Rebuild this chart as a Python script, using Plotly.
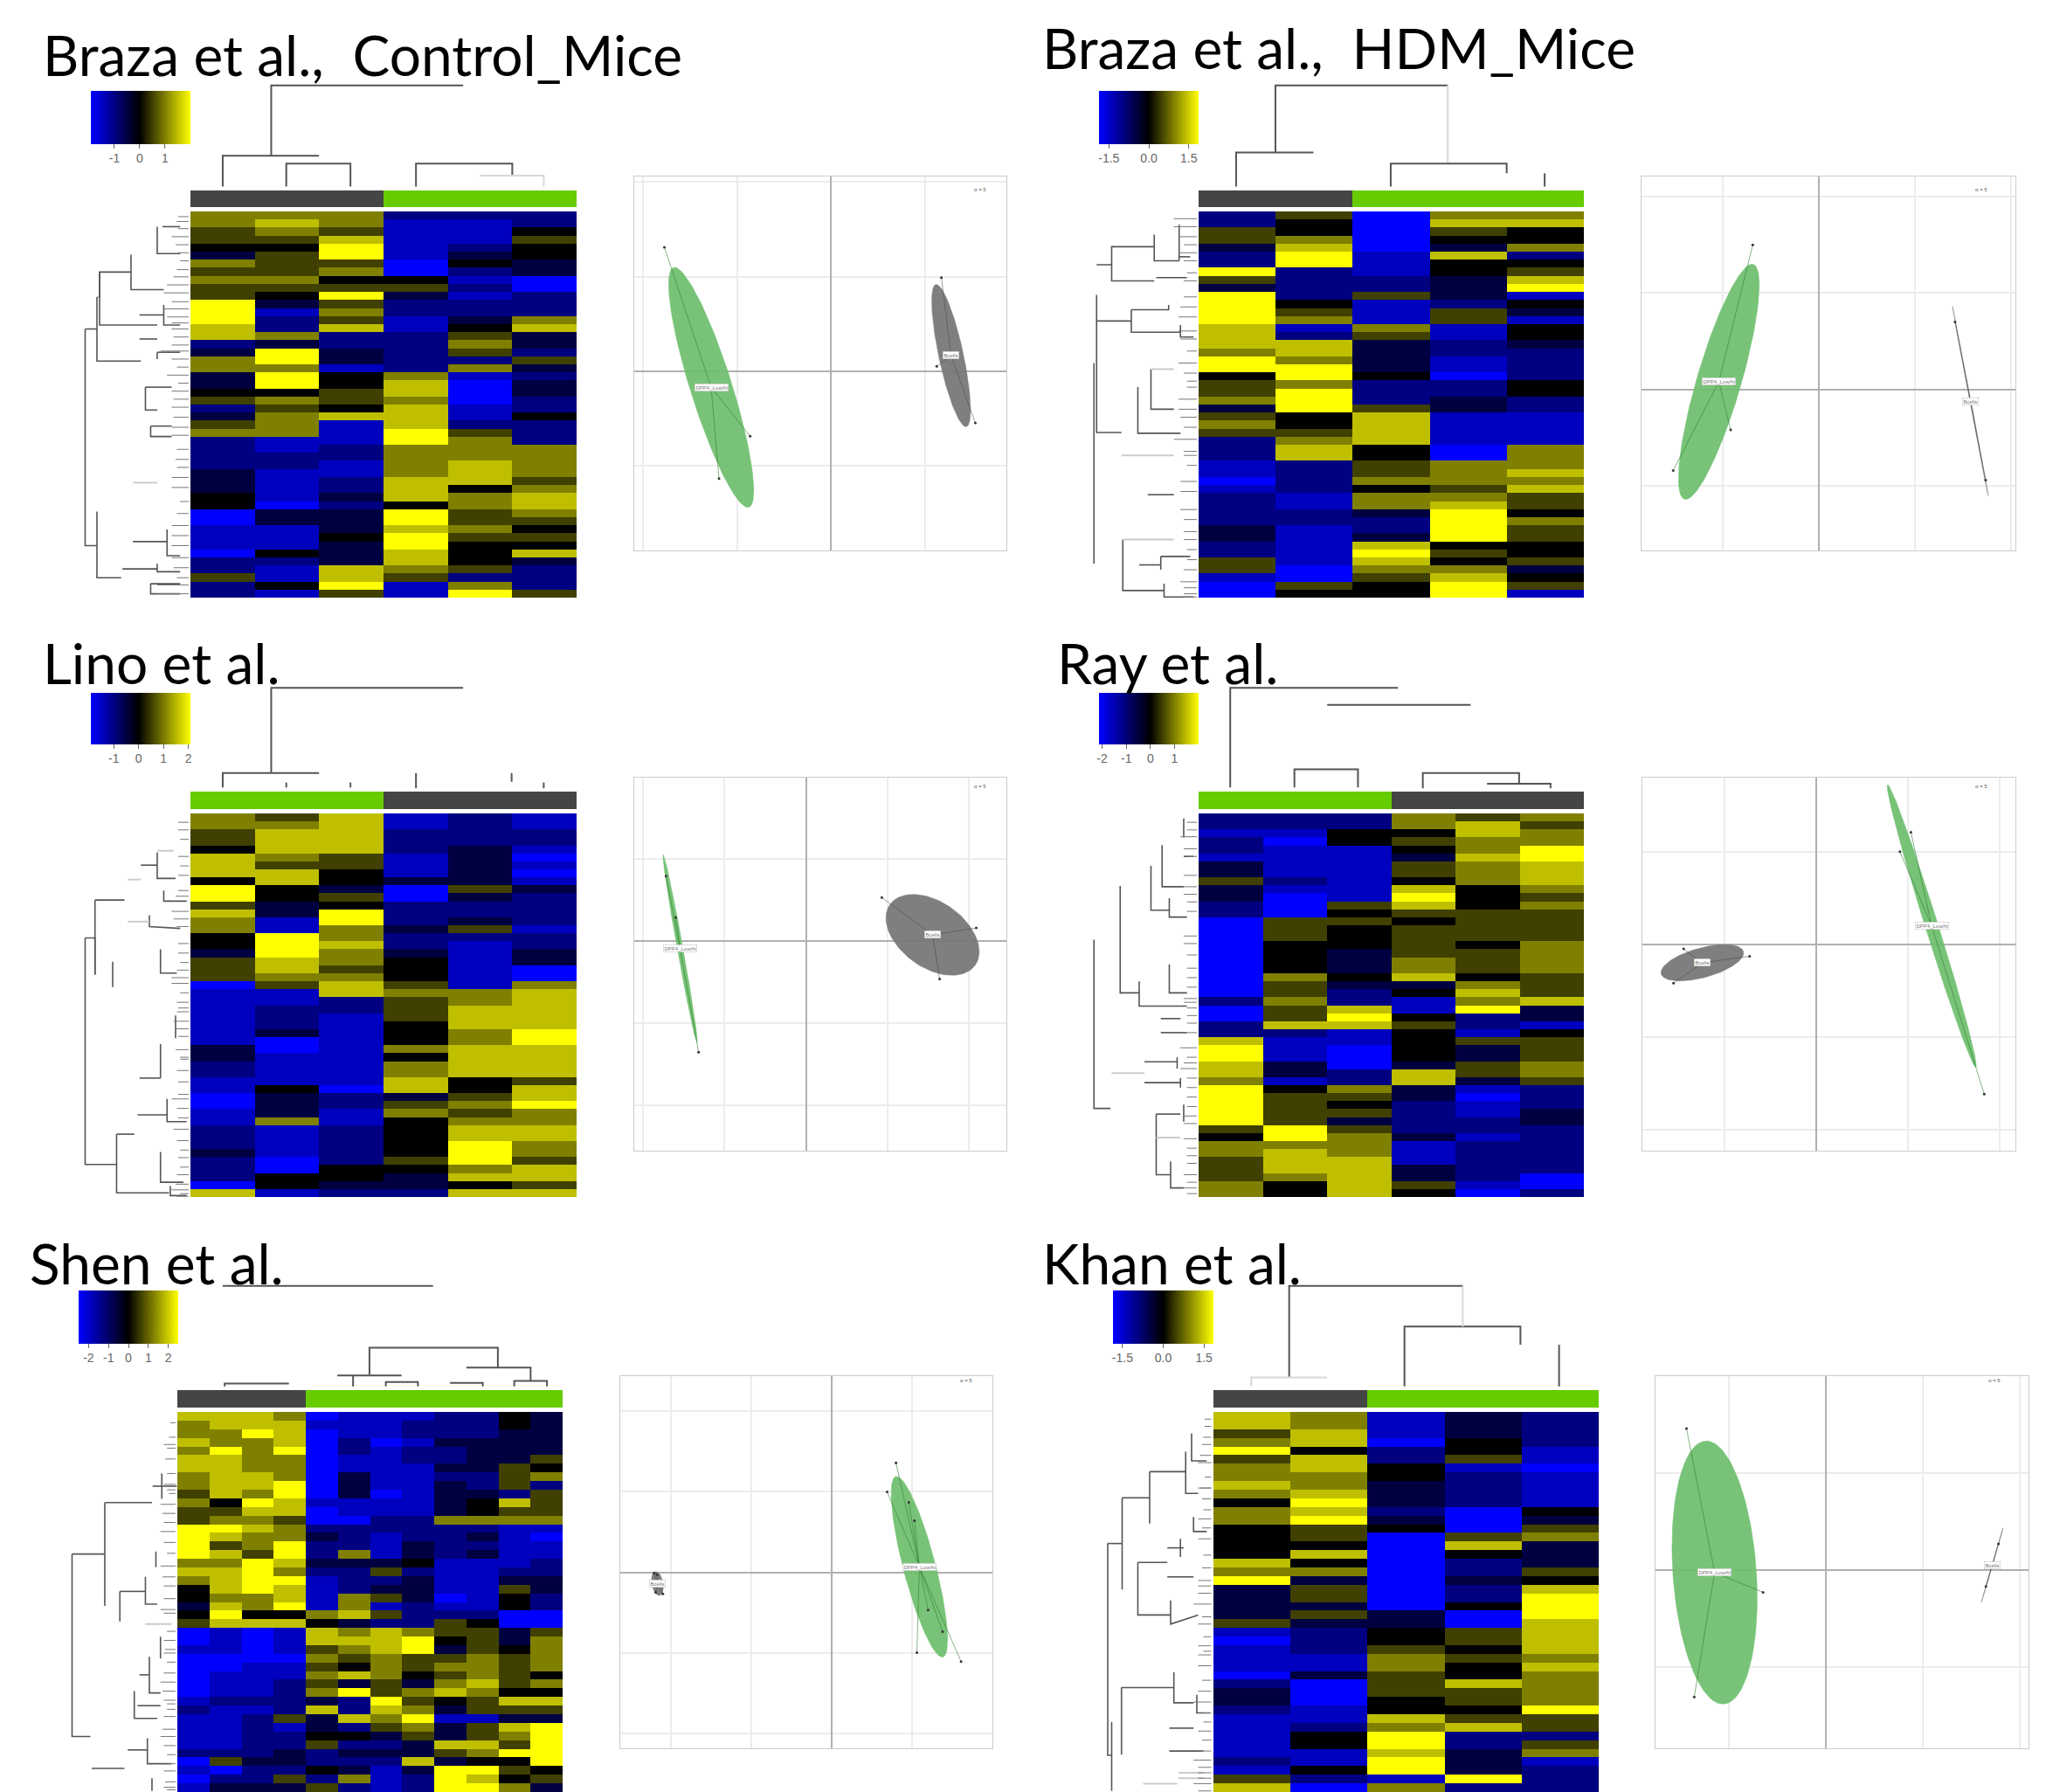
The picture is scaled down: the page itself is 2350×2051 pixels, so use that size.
import numpy as np
import plotly.graph_objects as go

W, H = 2350, 2051

# ---- heat-map colour levels (-4 pure blue ... 0 black ... +4 pure yellow), one list per sample column
P1_C1 = [2,2,1,1,0,-1,2,1,2,1,1,4,4,4,3,3,-2,-1,2,2,-1,-1,0,1,-2,-1,1,2,-2,-2,-2,-2,-1,-1,-1,0,0,-4,-4,-3,-3,-3,-4,-2,-2,1,-2,-2]
P1_C2 = [2,3,2,1,0,1,1,1,2,1,0,-1,-3,-2,-2,2,-1,4,4,2,4,4,0,2,1,2,2,2,-3,-3,-2,-2,-3,-3,-3,-3,-4,-1,-1,-3,-3,-3,0,-2,-3,-3,0,-3]
P1_C3 = [2,2,1,3,4,4,1,2,0,1,4,1,2,1,3,-2,-2,-1,-1,-3,0,0,1,1,0,3,-3,-3,-3,-2,-2,-3,-3,-2,-2,-1,-2,-1,-1,-1,0,-1,-1,-1,3,3,4,1]
P1_C4 = [-2,-3,-3,-3,-3,-3,-4,-4,0,1,-1,-2,-2,-3,-3,-2,-2,-2,-2,-2,2,3,3,2,3,3,3,4,4,2,2,2,2,3,3,3,0,4,4,3,4,4,3,3,2,1,-3,-3]
P1_C5 = [-2,-3,-3,-3,-2,-1,0,-2,-3,-2,-3,-2,-2,-1,0,1,2,1,-2,2,-3,-4,-4,-4,-3,-3,-2,1,2,2,2,3,3,3,0,2,2,1,1,2,1,0,0,0,1,-2,2,4]
P1_C6 = [-2,-2,0,1,0,0,-1,-1,-4,-4,-2,-2,-2,2,3,-1,-1,-2,1,-1,-2,-1,-1,-2,-2,0,-2,-2,-2,2,2,2,2,1,2,3,3,2,1,0,1,0,3,-1,-2,-2,-2,1]

P2_C1 = [-2,-2,1,1,-1,-2,-2,4,1,-1,4,4,4,4,3,3,3,2,4,4,0,1,1,2,-1,1,2,1,-2,-2,-2,-3,-3,-4,-3,-2,-2,-2,-2,-1,-1,-2,-2,1,1,-3,-4,-4]
P2_C2 = [1,0,0,2,3,4,4,-2,-2,-2,-2,0,1,2,-3,-2,3,3,2,4,4,2,4,4,4,0,0,1,2,3,3,-2,-2,-2,-2,-3,-3,-2,-2,-3,-3,-3,-3,-3,-4,-4,1,0]
P2_C3 = [-4,-4,-4,-4,-4,-3,-3,-3,-2,-2,1,-3,-3,-3,2,1,-1,-1,-1,-1,0,-2,-2,-2,1,3,3,3,3,0,0,1,1,2,0,2,2,-1,-2,-2,-1,3,4,3,2,1,0,0]
P2_C4 = [2,3,1,0,-1,3,0,0,-1,-1,-1,-2,1,1,-3,-3,-2,-2,-3,-3,-4,-2,-2,-1,-1,-3,-3,-3,-3,-4,-4,2,2,2,1,2,3,4,4,4,4,0,1,0,2,3,4,4]
P2_C5 = [2,3,0,0,2,-2,0,1,3,4,-3,0,-1,-3,0,0,-1,-2,-2,-2,-2,0,0,-2,-2,-3,-3,-3,-3,2,2,2,3,2,3,1,1,0,2,1,1,0,0,1,-1,0,1,-3]

P3_C1 = [2,2,1,1,0,3,3,3,0,4,4,1,3,2,2,0,0,-1,1,1,1,-4,-3,-3,-3,-3,-3,-3,-3,-1,-1,-2,-2,-3,-3,-4,-4,-3,-3,-2,-2,-2,-1,-2,-2,-2,-4,3]
P3_C2 = [1,2,3,3,3,2,1,3,3,0,0,-1,-1,-3,-3,4,4,4,3,3,2,1,-3,-3,-2,-2,-2,-1,-4,-4,-3,-3,-3,-3,0,-1,-1,-1,2,-3,-3,-3,-3,-4,-4,0,0,-3]
P3_C3 = [3,3,3,3,3,1,1,0,0,-1,1,0,4,4,2,2,3,2,2,1,2,3,3,-2,-2,-3,-3,-3,-3,-3,-3,-3,-3,-3,-4,-2,-2,-3,-3,-2,-2,-2,-2,-2,0,0,-1,-2]
P3_C4 = [-3,-3,-2,-2,-2,-3,-3,-3,-1,-4,-4,-2,-2,-2,-1,-2,-2,-1,0,0,0,1,2,1,1,1,0,0,0,2,0,2,2,3,3,-1,1,2,0,0,0,0,0,1,0,-1,-1,-2]
P3_C5 = [-2,-2,-2,-2,-1,-1,-1,-1,-1,1,-1,-2,-2,-1,1,-2,-3,-3,-3,-3,-3,-3,2,2,3,3,3,2,2,3,3,3,3,0,0,1,2,1,2,3,3,4,4,4,2,3,0,3]
P3_C6 = [-3,-3,-2,-2,-3,-4,-3,-4,-3,-1,-2,-2,-2,-2,-3,-2,-2,-1,-1,-4,-4,2,3,3,3,3,3,4,4,3,3,3,3,1,3,3,4,2,2,3,3,2,2,1,3,3,1,3]

P4_C1 = [-2,-2,-3,-2,-2,-3,-1,-1,1,-1,-1,-2,-2,-4,-4,-4,-4,-4,-4,-4,-4,-4,-4,-2,-4,-4,-2,-2,3,4,4,3,3,2,4,4,4,4,4,1,0,2,2,1,1,1,2,2]
P4_C2 = [-2,-2,-3,-4,-3,-3,-3,-3,-2,-3,-4,-4,-4,1,1,1,0,0,0,0,2,1,1,2,1,1,3,-2,-3,-3,-3,-1,-1,-3,0,1,1,1,1,4,4,2,3,3,3,2,0,0]
P4_C3 = [-2,-2,0,0,-3,-3,-3,-3,-3,-3,-3,1,0,1,0,0,0,-1,-1,-1,0,-1,-2,-2,3,4,3,-3,-3,-4,-4,-4,-2,-2,2,1,0,1,-1,1,2,2,2,3,3,3,3,3]
P4_C4 = [2,2,0,1,0,-1,1,1,0,3,4,3,1,0,1,1,1,1,2,2,3,-1,0,-3,-3,0,1,0,0,0,0,-1,3,3,-1,-1,-2,-2,-2,-2,-1,-3,-3,-3,-1,-1,1,0]
P4_C5 = [1,3,3,2,2,3,2,2,2,0,0,0,1,1,1,1,0,1,1,1,0,2,3,2,4,-2,-2,-3,1,-1,-1,1,1,-1,-3,-4,-3,-3,-2,-2,-3,-2,-2,-2,-2,-2,-3,-4]
P4_C6 = [2,1,2,2,4,4,3,3,3,2,1,2,1,1,1,1,2,2,2,2,1,1,1,3,-1,-1,-3,0,1,1,1,2,2,1,-2,-2,-2,-1,-1,-2,-2,-2,-2,-2,-2,-4,-4,-2]

P5_C01 = [3,2,2,3,2,3,3,2,2,1,2,1,1,4,4,4,4,2,3,2,0,0,-1,0,1,-4,-4,-3,-4,-4,-4,-4,-4,-3,-2,-3,-3,-3,-3,-2,-4,-3,-4,-3]
P5_C02 = [3,3,2,2,4,3,3,3,3,3,0,1,2,4,3,1,3,2,3,3,3,2,3,4,3,-3,-3,-3,-4,-4,-3,-3,-3,-2,-3,-3,-3,-3,-3,-2,1,-4,-2,-1]
P5_C03 = [3,3,4,2,2,2,2,3,3,2,4,3,2,3,2,2,1,4,4,4,4,2,2,0,3,-4,-4,-4,-4,-3,-3,-3,-3,-2,-3,-2,-2,-2,-2,-2,-1,-2,-2,-1]
P5_C04 = [2,3,3,3,4,2,2,2,4,4,3,3,1,2,2,4,4,3,2,4,3,3,4,0,3,-3,-3,-3,-4,-3,-3,-2,-2,-2,-2,1,-3,-2,-2,-1,-1,-2,1,-1]
P5_C05 = [-4,-3,-4,-4,-4,-4,-4,-4,-4,-4,-3,-4,-4,-2,-1,-2,-2,-1,-2,-3,-3,-3,-3,2,0,3,3,1,2,1,2,1,2,-1,3,-1,-1,0,1,-2,-2,0,-2,1]
P5_C06 = [-3,-3,-3,-2,-2,-3,-3,-1,-1,-1,-3,-3,-4,-2,-2,-2,2,-1,-2,-2,-2,2,2,3,-1,2,3,2,1,0,3,-1,4,-2,-2,3,-2,0,-2,-1,-2,-1,2,-2]
P5_C07 = [-3,-3,-3,-4,-3,-3,-3,-3,-3,-4,-3,-3,-2,-2,-3,-3,-3,-1,1,-2,-1,1,-3,1,-2,3,3,3,2,2,2,1,1,4,3,2,1,-1,-2,-1,-2,-3,-3,-3]
P5_C08 = [-3,-2,-2,-3,-2,-2,-3,-3,-3,-3,-3,-3,-2,-2,-2,-1,-1,0,-2,-1,-1,-1,-2,-2,-2,2,4,4,1,1,0,-1,2,1,2,4,2,1,-1,-1,3,-1,-2,-2]
P5_C09 = [-2,-2,-2,-1,-2,-2,-1,-2,-1,-1,-1,-1,2,-2,-2,-2,-2,-3,-3,-3,-3,-4,-3,-2,1,1,0,-1,1,2,1,2,3,0,-1,-3,-1,-1,3,1,-1,4,4,4]
P5_C10 = [-2,-2,-2,-1,-1,-1,-1,-2,-2,-1,0,0,2,-2,-1,-2,-1,-3,-3,-3,-3,-3,-3,-2,0,1,1,1,2,2,2,3,2,1,1,-3,1,1,3,2,0,4,3,4]
P5_C11 = [0,0,-1,-1,-1,-1,1,1,1,-2,3,1,2,-3,-3,-3,-3,-3,-2,-1,1,0,0,-4,-4,-1,-1,0,1,1,1,1,0,3,1,-1,3,2,1,4,0,1,0,2]
P5_C12 = [-1,-1,-1,-1,-1,1,0,2,-2,1,1,1,2,-3,-4,-3,-3,-2,-2,-1,-1,-2,-2,-4,-4,1,2,2,2,2,0,2,0,3,1,-1,4,4,4,4,4,0,1,-1]

P6_C1 = [3,3,1,2,4,1,2,2,3,2,0,2,2,0,0,0,0,3,2,4,-1,-1,-1,-1,1,-3,-4,-3,-3,-3,-4,-2,-1,-1,-2,-3,-3,-3,-3,-3,-2,-3,1,3]
P6_C2 = [2,2,3,3,0,3,3,2,2,3,4,3,4,1,1,0,3,0,2,-1,1,1,-1,1,-1,-2,-2,-2,-3,-3,-1,-4,-4,-4,-3,-3,-2,0,0,-3,-3,0,-2,-4]
P6_C3 = [-3,-3,-3,-4,-2,-2,0,0,-1,-1,-1,-2,-1,0,-4,-4,-4,-4,-4,-4,-4,-4,-4,-1,-1,0,0,1,2,2,1,1,1,0,0,3,2,4,4,3,4,4,-3,2]
P6_C4 = [-1,-1,-1,0,0,1,-3,-2,-2,-2,-2,-4,-4,-4,1,3,0,-2,-2,-1,-2,-2,0,-4,-4,1,1,0,1,0,0,3,1,1,0,1,3,-2,-2,-1,-1,-1,4,-2]
P6_C5 = [-2,-2,-2,-2,-3,-3,-4,-3,-3,-3,-3,0,-1,1,2,-1,-1,-1,1,0,3,4,4,4,3,3,3,3,2,3,2,2,2,2,4,1,1,-2,1,2,-3,-2,-2,-2]

# ---- sample groups above each heat map (0 = dark bar, 1 = green bar)
P1_GROUPS = [0,0,0,1,1,1]
P2_GROUPS = [0,0,1,1,1]
P3_GROUPS = [1,1,1,0,0,0]
P4_GROUPS = [1,1,1,0,0,0]
P5_GROUPS = [0,0,0,0,1,1,1,1,1,1,1,1]
P6_GROUPS = [0,0,1,1,1]

# ---- PCA sample scores
P1_GREEN_X = [-1.77,-0.86,-1.19]; P1_GREEN_Y = [1.31,-0.69,-1.14]
P1_GRAY_X = [1.17,1.12,1.53];     P1_GRAY_Y = [0.99,0.05,-0.55]
P2_GREEN_X = [-0.69,-0.92,-1.52]; P2_GREEN_Y = [1.50,-0.42,-0.84]
P2_GRAY_X = [1.42,1.74];          P2_GRAY_Y = [0.70,-0.94]
P3_GREEN_X = [-1.72,-1.60,-1.32]; P3_GREEN_Y = [0.79,0.29,-1.35]
P3_GRAY_X = [0.93,2.09,1.64];     P3_GRAY_Y = [0.53,0.16,-0.46]
P4_GREEN_X = [1.03,0.91,1.83];    P4_GREEN_Y = [1.21,1.00,-1.62]
P4_GRAY_X = [-1.45,-0.73,-1.56];  P4_GRAY_Y = [-0.05,-0.13,-0.42]
P5_GREEN_X = [0.80,0.69,0.96,1.03,1.06,1.20,1.38,1.61]
P5_GREEN_Y = [1.36,1.00,0.87,0.64,-1.00,-0.47,-0.74,-1.11]
P5_GRAY_X = [-2.21,-2.17,-2.19,-2.10]; P5_GRAY_Y = [-0.01,-0.03,-0.25,-0.27]
P6_GREEN_X = [-1.44,-0.65,-1.36]; P6_GREEN_Y = [1.46,-0.23,-1.31]
P6_GRAY_X = [1.78,1.65];          P6_GRAY_Y = [0.27,-0.17]

# ---- tree links, in reading units of each panel's tree axis
P1_TOP = [[414,388,414,213,707,213],[340,465,340,388,487,388],[437,465,437,408,535,408,535,465],[635,465,635,408,782,408,782,438]]
P1_TOP_PALE = [[733,438,830,438,830,465]]
P1_SIDE = [[130,820,130,1360,148,1360],[130,820,148,820],[148,740,148,900,215,900],[150,740,152,740,152,678,200,678],[152,678,152,810,240,810],
           [200,635,200,722,250,722],[240,565,240,632,275,632],[248,565,275,565],[213,785,250,785],[250,760,250,810,275,810],[213,845,240,845],
           [240,878,275,878],[240,878,240,895],[222,965,222,1022,240,1022],[222,965,262,965],[230,1062,230,1088,262,1088],[230,1062,262,1062],
           [148,1275,148,1440,185,1440],[187,1418,240,1418],[240,1405,240,1425,275,1425],[203,1350,255,1350],[255,1320,255,1385,275,1385],
           [230,1455,230,1480,275,1480],[230,1455,275,1455]]
P1_SIDE_PALE = [[203,1203,240,1203]]
P1_LEAF_X = [272,270,272,262,268,272,275,270,265,255,250,262,250,255,262,262,265,262,245,262,270,255,272,262,265,262,265,262,262,270,268,270,262,262,275,270,262,262,262,262,265,270,240,240]
P1_LEAF_Y = [540,552,570,590,610,630,650,672,690,710,730,752,770,790,805,820,840,860,875,895,915,935,955,975,995,1015,1040,1065,1085,1120,1145,1165,1190,1215,1250,1280,1310,1335,1360,1390,1415,1440,1458,1480]

P2_TOP = [[380,380,380,213,643,213],[320,465,320,380,438,380],[556,465,556,408,733,408,733,432],[791,432,791,465]]
P2_TOP_PALE = [[643,213,643,405]]
P2_SIDE = [[103,905,103,1405],[107,735,107,1078,145,1078],[107,800,160,800],[107,660,130,660,130,700,195,700],[130,660,130,615,195,615],[195,585,195,650,233,650],
           [160,772,160,828,235,828],[160,772,217,772,217,760],[170,965,170,1080,235,1080],[190,920,190,1020,225,1020],[198,692,245,692],[147,1345,147,1472,210,1472],
           [205,1387,205,1420],[172,1408,205,1408],[205,1387,250,1387],[210,1455,210,1488,255,1488],[185,1233,225,1233],[233,560,233,650],[233,640,250,640],[235,810,235,840,255,840]]
P2_SIDE_PALE = [[190,920,225,920],[145,1135,225,1135],[147,1345,225,1345]]
P2_LEAF_X = [225,225,232,240,232,240,245,240,240,235,232,232,235,245,232,240,245,245,232,232,235,240,225,240,240,245,235,235,235,240,240,240,245,245,240,235,240,240,240]
P2_LEAF_Y = [545,565,590,610,630,650,680,700,740,765,790,825,845,875,905,930,950,965,995,1020,1040,1065,1095,1125,1135,1160,1200,1225,1270,1295,1325,1345,1370,1395,1420,1450,1465,1480,1488]

P3_TOP = [[414,380,414,155,707,155],[340,418,340,380,487,380],[437,405,437,418],[535,405,535,418],[635,380,635,420],[781,380,781,403],[830,405,830,420]]
P3_TOP_PALE = []
P3_SIDE = [[130,815,130,1413,178,1413],[130,815,145,815,145,912],[145,715,190,715],[145,715,145,912],[172,878,172,945],[178,1333,178,1488,258,1488],[178,1333,205,1333],
           [215,623,240,623],[240,590,240,658,268,658],[245,845,245,908,270,908],[228,755,228,785,275,790],[213,1185,245,1185],[245,1095,245,1185],[210,1282,255,1282],
           [255,1240,255,1300,285,1300],[245,1380,245,1460,280,1460],[250,690,250,718,285,718],[268,1020,268,1080],[260,1470,260,1495,285,1495]]
P3_SIDE_PALE = [[195,661,215,661],[195,772,228,772],[240,585,265,585]]
P3_LEAF_X = [272,272,275,272,275,272,272,268,262,265,270,272,272,275,270,262,270,270,265,272,268,275,270,272,262,270,272,265,270,275,272,275,270,268,262,275,270,272,275,268,272,275,262]
P3_LEAF_Y = [510,530,555,600,625,650,690,705,745,765,785,830,855,880,900,935,985,1010,1035,1075,1110,1135,1165,1195,1240,1265,1290,1320,1350,1375,1395,1420,1440,1465,1480,1490,1497,1228,1130,1055,1000,960,920]

P4_TOP = [[311,418,311,155,567,155],[459,200,678,200],[409,418,409,370,506,370,506,418],[605,420,605,380,752,380,752,408],[703,408,800,408,800,420]]
P4_TOP_PALE = []
P4_SIDE = [[103,820,103,1265,128,1265],[143,678,143,960,172,960],[172,930,172,995,245,995],[190,625,190,742,218,742],[207,570,207,680,240,680],[218,710,218,760,245,760],
           [218,885,218,960,245,960],[205,1028,235,1028],[205,1065,245,1065],[180,1142,230,1142],[180,1197,235,1197],[198,1280,198,1440,220,1440],[198,1280,235,1280],
           [220,1405,220,1475,240,1475],[240,1255,240,1300],[240,600,255,600],[240,500,240,550],[230,1130,230,1160],[235,1185,235,1210]]
P4_SIDE_PALE = [[130,1172,180,1172],[198,1342,235,1342]]
P4_LEAF_X = [245,245,235,240,245,240,238,240,245,245,240,240,245,245,245,245,240,245,245,235,235,245,235,245,245,245,245,240,240,240,245,245,245,240,245,240,245,245,240,240]
P4_LEAF_Y = [510,530,548,580,600,650,680,700,720,745,810,830,860,895,920,945,985,1020,1040,1065,1105,1130,1160,1185,1210,1235,1260,1285,1305,1345,1370,1390,1410,1440,1460,1475,1490,1000,975,1145]

P5_TOP = [[343,450,343,442,441,442],[564,418,564,343,760,343,760,398],[515,420,613,420],[539,450,539,420],[589,450,589,438,638,438,638,450],[687,440,737,440,737,450],[712,398,810,398,810,435],[785,450,785,435,835,435,835,450],[340,173,661,173]]
P5_TOP_PALE = []
P5_SIDE = [[110,912,110,1415,138,1415],[110,912,160,912],[160,770,160,1055],[160,770,232,770],[183,1015,183,1098],[183,1015,222,1015],[222,975,222,1050,240,1050],[233,725,270,725],
           [238,905,238,948],[247,690,247,760],[205,1290,205,1365,240,1365],[228,1195,228,1295,245,1295],[213,1245,228,1245],[195,1452,225,1452],[225,1420,225,1490,262,1490],
           [140,1503,190,1503],[232,1530,232,1565],[245,1140,245,1200],[210,1330,245,1330]]
P5_SIDE_PALE = [[222,1105,262,1105]]
P5_LEAF_X = [260,258,255,252,255,250,258,245,248,250,245,250,255,245,248,250,250,245,255,250,252,255,250,245,248,250,255,250,248,245,250,255,255,250,252,250,255,255,250,250,255,250]
P5_LEAF_Y = [550,590,620,650,690,720,745,775,800,825,850,880,910,945,975,1000,1035,1065,1125,1150,1175,1210,1240,1265,1290,1315,1340,1360,1395,1415,1440,1465,1490,1510,1540,1555,1562,1325,1185,1075,735,610]

P6_TOP = [[401,425,401,173,666,173],[577,450,577,285,754,285,754,335],[813,335,813,450]]
P6_TOP_PALE = [[343,450,343,425,459,425],[666,173,666,285]]
P6_SIDE = [[124,883,124,1467,130,1467],[124,883,146,883],[146,757,146,1010],[146,757,188,757],[188,685,188,828],[188,685,243,685],[243,630,243,745,262,745],[252,580,252,655,275,655],
           [170,935,170,1080,220,1080],[170,935,215,935],[215,975,255,975],[220,1040,220,1105,262,1080],[235,870,235,920],[215,895,240,895],[145,1280,145,1465],[145,1280,225,1280],
           [225,1238,225,1322,255,1322],[130,1375,130,1565],[218,1392,255,1392],[218,1455,270,1455],[260,1300,260,1350,280,1350],[255,810,255,850,275,850]]
P6_SIDE_PALE = [[178,1545,230,1545],[232,1515,270,1515],[232,1530,270,1530]]
P6_LEAF_X = [272,272,270,268,265,262,272,265,268,270,262,268,262,270,268,262,262,255,268,262,270,262,262,262,268,262,255,270,270,262,268,262,255,262,262,262,255,270,262,262,262]
P6_LEAF_Y = [540,560,590,610,640,660,700,730,760,790,815,840,870,915,950,985,1020,1050,1085,1105,1140,1165,1190,1220,1260,1290,1320,1350,1375,1400,1425,1455,1480,1500,1515,1530,1545,1180,1000,730,1565]

TITLES = ["Braza et al.,  Control_Mice","Braza et al.,  HDM_Mice","Lino et al.","Ray et al.","Shen et al.","Khan et al."]
CB_MIN = [-1.93,-1.87,-1.92,-2.13,-2.5,-1.85]
CB_MAX = [2.0,1.87,2.08,2.0,2.5,1.85]
CB_TICKS = [[-1,0,1],[-1.5,0,1.5],[-1,0,1,2],[-2,-1,0,1],[-2,-1,0,1,2],[-1.5,0,1.5]]
CB_TEXT = [["-1","0","1"],["-1.5","0.0","1.5"],["-1","0","1","2"],["-2","-1","0","1"],["-2","-1","0","1","2"],["-1.5","0.0","1.5"]]

PANELS = [
 dict(cols=[P1_C1,P1_C2,P1_C3,P1_C4,P1_C5,P1_C6],g=P1_GROUPS,hm=(218,660,242,684),bar=(218,237),cb=(104,218,104,165),win=(0,0,1175,720),
      title=(47,62),top=P1_TOP,pale=P1_TOP_PALE,side=P1_SIDE,spale=P1_SIDE_PALE,lx=P1_LEAF_X,ly=P1_LEAF_Y,edge=288,
      pca=(726,1152,202,630),xr=(-2.09,1.86),yr=(-1.9,2.06),gx=(P1_GREEN_X,P1_GREEN_Y),kx=(P1_GRAY_X,P1_GRAY_Y),
      ge=(1.33,0.22,-72.5),ke=(0.77,0.13,-77.9)),
 dict(cols=[P2_C1,P2_C2,P2_C3,P2_C4,P2_C5],g=P2_GROUPS,hm=(1372,1813,242,684),bar=(218,237),cb=(1258,1372,104,165),win=(1175,0,1175,720),
      title=(1191,55),top=P2_TOP,pale=P2_TOP_PALE,side=P2_SIDE,spale=P2_SIDE_PALE,lx=P2_LEAF_X,ly=P2_LEAF_Y,edge=260,
      pca=(1879,2307,202,630),xr=(-1.85,2.05),yr=(-1.67,2.21),gx=(P2_GREEN_X,P2_GREEN_Y),kx=(P2_GRAY_X,P2_GRAY_Y),
      ge=(1.27,0.23,73.6),ke=(1.0,0.006,-79.3)),
 dict(cols=[P3_C1,P3_C2,P3_C3,P3_C4,P3_C5,P3_C6],g=P3_GROUPS,hm=(218,660,931,1370),bar=(906,926),cb=(104,218,793,852),win=(0,720,1175,680),
      title=(47,758),top=P3_TOP,pale=P3_TOP_PALE,side=P3_SIDE,spale=P3_SIDE_PALE,lx=P3_LEAF_X,ly=P3_LEAF_Y,edge=288,
      pca=(726,1152,890,1317),xr=(-2.11,2.46),yr=(-2.55,1.99),gx=(P3_GREEN_X,P3_GREEN_Y),kx=(P3_GRAY_X,P3_GRAY_Y),
      ge=(1.16,0.035,-79.7),ke=(0.64,0.40,-35)),
 dict(cols=[P4_C1,P4_C2,P4_C3,P4_C4,P4_C5,P4_C6],g=P4_GROUPS,hm=(1372,1813,931,1370),bar=(906,926),cb=(1258,1372,793,852),win=(1175,720,1175,680),
      title=(1208,758),top=P4_TOP,pale=P4_TOP_PALE,side=P4_SIDE,spale=P4_SIDE_PALE,lx=P4_LEAF_X,ly=P4_LEAF_Y,edge=260,
      pca=(1880,2307,890,1317),xr=(-1.9,2.17),yr=(-2.23,1.80),gx=(P4_GREEN_X,P4_GREEN_Y),kx=(P4_GRAY_X,P4_GRAY_Y),
      ge=(1.6,0.07,-72.5),ke=(0.465,0.16,15)),
 dict(cols=[P5_C01,P5_C02,P5_C03,P5_C04,P5_C05,P5_C06,P5_C07,P5_C08,P5_C09,P5_C10,P5_C11,P5_C12],g=P5_GROUPS,hm=(203,644,1616,2051),bar=(1591,1611),cb=(90,204,1477,1538),win=(0,1400,1175,651),
      title=(32,1445),top=P5_TOP,pale=P5_TOP_PALE,side=P5_SIDE,spale=P5_SIDE_PALE,lx=P5_LEAF_X,ly=P5_LEAF_Y,edge=268,
      pca=(710,1136,1575,2001),xr=(-2.63,2.0),yr=(-2.19,2.44),gx=(P5_GREEN_X,P5_GREEN_Y),kx=(P5_GRAY_X,P5_GRAY_Y),
      ge=(1.16,0.2,-75.4),ke=(0.15,0.07,-80)),
 dict(cols=[P6_C1,P6_C2,P6_C3,P6_C4,P6_C5],g=P6_GROUPS,hm=(1389,1830,1616,2051),bar=(1591,1611),cb=(1274,1389,1477,1538),win=(1175,1400,1175,651),
      title=(1191,1445),top=P6_TOP,pale=P6_TOP_PALE,side=P6_SIDE,spale=P6_SIDE_PALE,lx=P6_LEAF_X,ly=P6_LEAF_Y,edge=282,
      pca=(1895,2322,1575,2001),xr=(-1.76,2.09),yr=(-1.84,2.0),gx=(P6_GREEN_X,P6_GREEN_Y),kx=(P6_GRAY_X,P6_GRAY_Y),
      ge=(1.36,0.43,-86),ke=(0.4,0.004,73.7)),
]

fig = go.Figure()
layout = dict(width=W, height=H, margin=dict(l=0, r=0, t=0, b=0), showlegend=False,
              paper_bgcolor="white", plot_bgcolor="rgba(0,0,0,0)", annotations=[])
_n = [0]

def new_axes(x0, x1, y0, y1, xrange, yrange, **kw):
    _n[0] += 1
    n = _n[0]
    sx = "" if n == 1 else str(n)
    base = dict(showgrid=False, zeroline=False, showticklabels=False, ticks="", showline=False)
    xa = dict(base, domain=[x0 / W, x1 / W], range=list(xrange), anchor=f"y{sx}")
    ya = dict(base, domain=[1 - y1 / H, 1 - y0 / H], range=list(yrange), anchor=f"x{sx}")
    xa.update(kw); ya.update(kw)
    layout[f"xaxis{sx}"] = xa
    layout[f"yaxis{sx}"] = ya
    return f"x{sx}", f"y{sx}"

def ellipse(cx, cy, a, b, deg):
    t = np.linspace(0, 2 * np.pi, 121)
    th = np.radians(deg)
    u = a * np.cos(t); v = b * np.sin(t)
    return cx + u * np.cos(th) - v * np.sin(th), cy + u * np.sin(th) + v * np.cos(th)

def polylines(paths):
    xs, ys = [], []
    for p in paths:
        xs += list(p[0::2]) + [None]
        ys += list(p[1::2]) + [None]
    return xs, ys

for i, p in enumerate(PANELS):
    cmin, cmax = CB_MIN[i], CB_MAX[i]
    n_rows = len(p["cols"][0])
    n_cols = len(p["cols"])
    for c in p["cols"]:
        assert len(c) == n_rows, (i, len(c), n_rows)
    lv = np.array(p["cols"], dtype=float).T
    z = np.where(lv < 0, lv / 4 * abs(cmin), lv / 4 * cmax)
    ca = "coloraxis" + ("" if i == 0 else str(i + 1))
    k = -cmin / (cmax - cmin)
    x0, x1, y0, y1 = p["hm"]
    bx0, bx1, by0, by1 = p["cb"]
    layout[ca] = dict(cmin=cmin, cmax=cmax, colorscale=[[0, "#0000ff"], [k, "#000000"], [1, "#ffff00"]],
                      colorbar=dict(orientation="h", x=bx0 / W, xanchor="left", y=1 - by0 / H, yanchor="top",
                                    len=(bx1 - bx0) / W, lenmode="fraction", thickness=by1 - by0, thicknessmode="pixels",
                                    xpad=0, ypad=0, outlinewidth=0, tickmode="array", tickvals=CB_TICKS[i], ticktext=CB_TEXT[i],
                                    ticks="outside", ticklen=5, tickwidth=1, tickcolor="#666",
                                    tickfont=dict(family="Liberation Sans", size=14, color="#666")))
    # heat map
    xa, ya = new_axes(x0, x1, y0, y1, (-0.5, n_cols - 0.5), (n_rows - 0.5, -0.5))
    fig.add_trace(go.Heatmap(z=z, coloraxis=ca, xaxis=xa, yaxis=ya, xgap=0, ygap=0))
    # sample group bar
    xa, ya = new_axes(x0, x1, p["bar"][0], p["bar"][1], (-0.5, n_cols - 0.5), (-0.5, 0.5))
    fig.add_trace(go.Heatmap(z=[p["g"]], zmin=0, zmax=1, showscale=False,
                             colorscale=[[0, "#454545"], [1, "#66cc00"]], xaxis=xa, yaxis=ya))
    # trees
    wx, wy, ww, wh = p["win"]
    xa, ya = new_axes(wx, wx + ww, wy, wy + wh, (0, 1567), (1568, 0))
    for paths, col, wd in [(p["top"], "#555555", 2), (p["pale"], "#d8d8d8", 2), (p["side"], "#555555", 1.6), (p["spale"], "#cccccc", 2)]:
        if paths:
            tx, ty = polylines(paths)
            fig.add_trace(go.Scatter(x=tx, y=ty, mode="lines", line=dict(color=col, width=wd), xaxis=xa, yaxis=ya, hoverinfo="skip"))
    leaves = [[lx, ly, p["edge"], ly] for lx, ly in zip(p["lx"], p["ly"])]
    tx, ty = polylines(leaves)
    fig.add_trace(go.Scatter(x=tx, y=ty, mode="lines", line=dict(color="#777777", width=1), xaxis=xa, yaxis=ya, hoverinfo="skip"))
    # title
    layout["annotations"].append(dict(text=TITLES[i], xref="paper", yref="paper", x=p["title"][0] / W, y=1 - p["title"][1] / H,
                                      xanchor="left", yanchor="middle", showarrow=False,
                                      font=dict(family="Lato", size=64, color="black")))
    # PCA
    px0, px1, py0, py1 = p["pca"]
    xa, ya = new_axes(px0, px1, py0, py1, p["xr"], p["yr"], showgrid=True, gridcolor="#ececec", gridwidth=1.5,
                      zeroline=True, zerolinecolor="#b0b0b0", zerolinewidth=2, showline=True, linecolor="#cccccc",
                      linewidth=1.2, mirror=True, tickmode="linear", dtick=1, tick0=0)
    for key, ekey, fill, star, label in [("gx", "ge", "rgba(110,190,110,0.93)", "rgba(50,125,50,0.75)", "DPP4_Low/hi"),
                                          ("kx", "ke", "rgba(120,120,120,0.95)", "rgba(70,70,70,0.65)", "Bcells")]:
        xs, ys = p[key]
        cx, cy = float(np.mean(xs)), float(np.mean(ys))
        ex, ey = ellipse(cx, cy, *p[ekey])
        fig.add_trace(go.Scatter(x=ex, y=ey, mode="lines", fill="toself", fillcolor=fill,
                                 line=dict(color=fill, width=0.5), xaxis=xa, yaxis=ya, hoverinfo="skip"))
        sx, sy = [], []
        for a, b in zip(xs, ys):
            sx += [cx, a, None]; sy += [cy, b, None]
        fig.add_trace(go.Scatter(x=sx, y=sy, mode="lines", line=dict(color=star, width=0.8), xaxis=xa, yaxis=ya, hoverinfo="skip"))
        fig.add_trace(go.Scatter(x=xs, y=ys, mode="markers", marker=dict(color="#333333", size=3), xaxis=xa, yaxis=ya))
        layout["annotations"].append(dict(text=label, xref=xa, yref=ya, x=cx, y=cy, showarrow=False, bgcolor="white",
                                          font=dict(family="Liberation Sans", size=6, color="#777"), borderpad=1,
                                          bordercolor="#bbbbbb", borderwidth=0.5))
    layout["annotations"].append(dict(text="α = 5", xref="paper", yref="paper", x=(px1 - 30) / W, y=1 - (py0 + 10) / H,
                                      showarrow=False, font=dict(family="Liberation Sans", size=6, color="#555")))

fig.update_layout(**layout)
fig.write_html("out.html", config={"displayModeBar": False}, post_script="document.body.style.margin='0';")
